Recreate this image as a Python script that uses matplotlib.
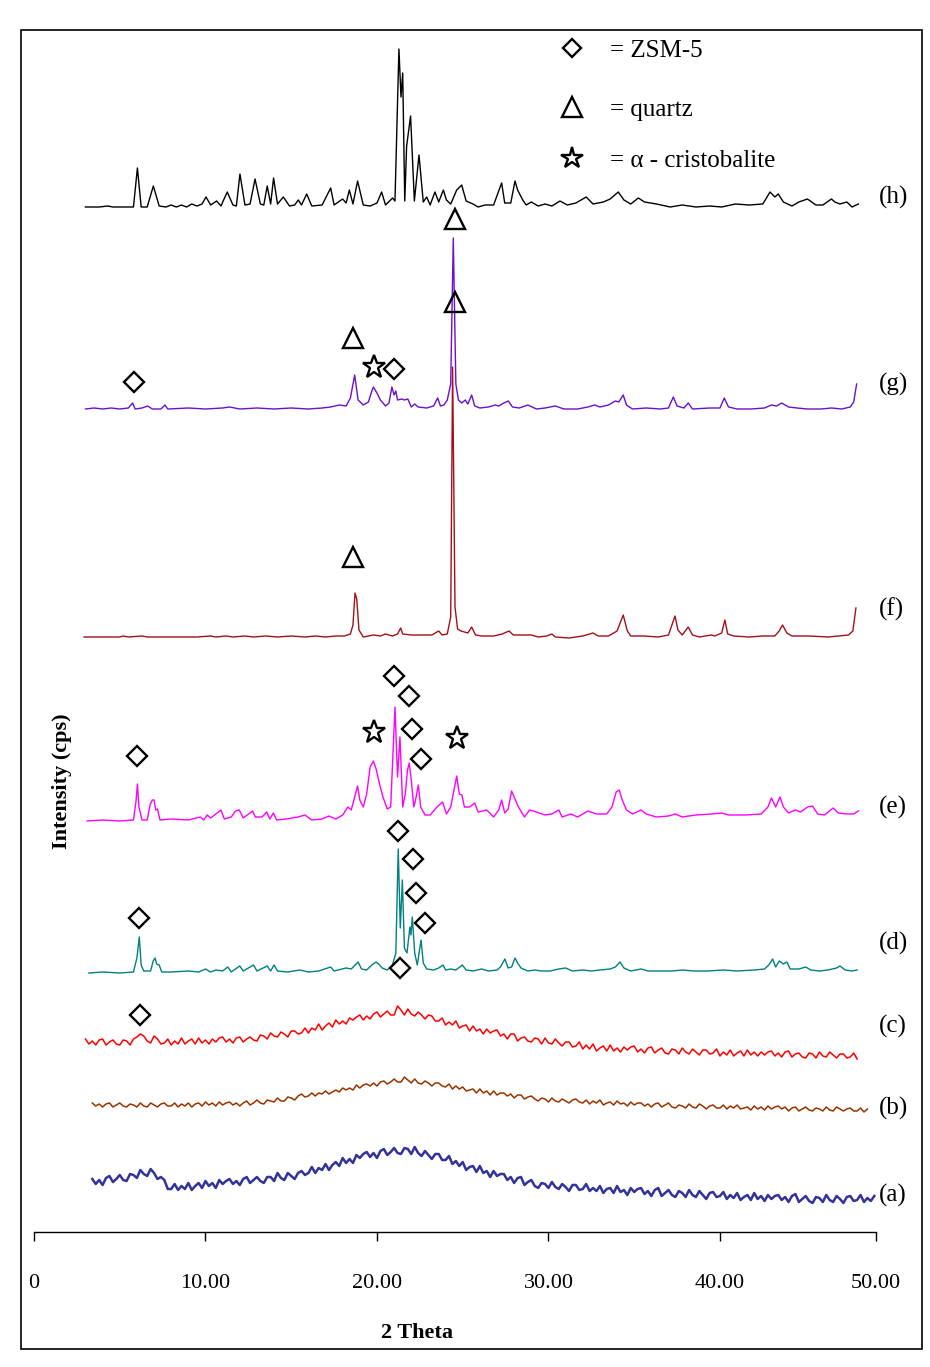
#XRD patterns (a)-(h), stacked
import numpy as np
import matplotlib.pyplot as plt
from matplotlib.patches import Rectangle

plt.rcParams['font.family'] = ['Liberation Serif', 'DejaVu Serif']

#---- data: (2 theta, intensity above own baseline) ----
trace_h = [(3.0,0),(3.8,0),(4.3,1),(4.6,0),(5.8,0),(6.03,39),(6.25,0),(6.6,0),(6.96,21),(7.3,1),
           (7.7,0),(8.0,2),(8.3,0),(8.6,2),(8.9,0),(9.2,3),(9.5,1),(9.8,3),(10.03,10),(10.3,2),
           (10.65,6),(10.9,1),(11.27,15),(11.6,2),(11.8,1),(12.01,33),(12.3,2),(12.6,3),(12.89,28),(13.2,3),
           (13.4,2),(13.6,21),(13.8,3),(13.97,29),(14.2,3),(14.54,10),(14.9,1),(15.2,2),(15.41,7),(15.6,2),
           (15.9,13),(16.2,1),(16.8,2),(17.3,19),(17.5,2),(18.0,8),(18.2,4),(18.39,17),(18.6,3),(18.87,26),
           (19.2,2),(19.6,1),(20.0,4),(20.27,15),(20.5,2),(20.91,9),(21.05,6),(21.28,158),(21.4,110),(21.5,134),
           (21.62,6),(21.73,61),(21.96,91),(22.18,6),(22.45,52),(22.7,5),(22.9,10),(23.1,2),(23.38,15),(23.6,5),
           (23.87,17),(24.05,7),(24.3,3),(24.65,17),(24.94,22),(25.2,6),(25.6,3),(25.9,0),(26.3,2),(26.8,2),
           (27.27,24),(27.45,4),(27.8,4),(28.05,26),(28.2,17),(28.5,7),(28.7,2),(29.0,5),(29.4,1),(29.8,3),
           (30.2,1),(30.67,6),(31.1,2),(31.6,4),(32.2,10),(32.6,3),(33.2,5),(33.6,8),(34.07,15),(34.4,7),
           (34.8,3),(35.24,9),(35.6,5),(36.3,3),(37.1,0),(37.8,2),(38.6,0),(39.4,1),(40.1,0),(40.9,3),
           (41.7,2),(42.5,3),(42.92,15),(43.2,10),(43.4,13),(43.7,5),(44.2,1),(44.6,5),(45.1,8),(45.6,2),
           (46.0,2),(46.5,8),(46.7,5),(47.0,3),(47.4,5),(47.7,0),(48.07,3)]

trace_g = [(3.0,0),(3.5,1),(4.0,0),(4.5,1),(5.0,0),(5.5,1),(5.75,6),(5.9,0),(6.3,1),(6.63,3),
           (6.9,0),(7.4,0),(7.64,4),(7.8,0),(9.0,1),(10.0,0),(11.0,1),(11.4,2),(12.0,0),(13.0,1),
           (14.0,0),(15.0,1),(16.0,0),(16.8,1),(17.3,2),(17.8,4),(18.2,3),(18.45,11),(18.7,34),(18.9,9),
           (19.2,4),(19.5,7),(19.7,18),(19.79,22),(20.0,16),(20.2,9),(20.5,3),(20.7,6),(20.87,22),(21.0,14),
           (21.1,18),(21.2,9),(21.45,10),(21.6,9),(21.8,10),(22.0,2),(22.2,5),(22.4,2),(22.9,1),(23.3,3),
           (23.54,11),(23.7,3),(23.9,4),(24.1,9),(24.3,25),(24.45,171),(24.6,25),(24.75,9),(24.95,6),(25.15,9),
           (25.3,5),(25.52,14),(25.7,3),(26.0,1),(26.5,2),(26.9,4),(27.1,3),(27.4,6),(27.66,8),(27.9,2),
           (28.3,1),(28.8,4),(29.3,0),(29.8,1),(30.4,3),(30.9,0),(31.7,0),(32.3,2),(32.7,4),(33.0,2),
           (33.5,4),(33.9,8),(34.1,7),(34.36,14),(34.55,4),(34.9,0),(35.7,1),(36.5,0),(37.0,1),(37.28,12),
           (37.5,3),(37.9,1),(38.15,6),(38.4,0),(39.4,1),(40.0,1),(40.25,11),(40.5,2),(41.0,0),(41.8,0),
           (42.6,1),(43.0,4),(43.3,3),(43.6,6),(44.0,2),(44.5,1),(45.1,0),(45.9,0),(46.5,1),(47.1,0),
           (47.6,2),(47.8,7),(47.97,25)]

trace_f = [(2.92,0),(3.5,0),(4.1,0),(5.0,0),(5.2,1),(5.5,0),(6.3,1),(6.6,0),(9.5,0),(10.3,1),
           (10.6,0),(11.2,1),(11.6,0),(12.3,1),(12.8,0),(13.5,1),(14.2,0),(15.0,1),(15.8,0),(16.4,1),
           (17.0,0),(17.6,1),(18.1,1),(18.45,3),(18.6,12),(18.72,44),(18.82,38),(18.95,7),(19.2,0),(19.8,2),
           (20.2,1),(20.5,3),(20.9,1),(21.2,3),(21.38,9),(21.5,3),(22.0,2),(22.6,2),(23.2,2),(23.6,6),
           (23.8,2),(24.1,3),(24.3,20),(24.41,270),(24.55,30),(24.7,8),(24.9,6),(25.1,5),(25.3,4),(25.52,10),
           (25.75,2),(26.1,1),(26.8,1),(27.3,3),(27.7,6),(27.95,2),(28.5,2),(29.0,2),(29.4,0),(29.9,1),
           (30.2,3),(30.4,0),(31.2,-1),(32.0,1),(32.6,4),(32.9,1),(33.5,1),(34.0,6),(34.36,22),(34.6,6),
           (34.8,1),(35.6,1),(36.4,0),(37.0,2),(37.2,12),(37.38,21),(37.55,7),(37.8,2),(38.15,10),(38.4,2),
           (38.8,0),(39.5,2),(39.7,1),(40.1,4),(40.29,17),(40.45,3),(40.8,1),(41.7,0),(42.5,1),(43.2,1),
           (43.45,6),(43.65,12),(43.9,4),(44.2,1),(45.2,1),(46.3,0),(47.5,2),(47.75,6),(47.93,29)]

trace_e = [(3.1,0),(4.0,1),(5.0,0),(5.8,1),(5.95,20),(6.03,37),(6.12,14),(6.3,1),(6.6,1),(6.78,17),
           (6.9,21),(7.0,21),(7.1,11),(7.2,12),(7.35,1),(8.0,2),(9.0,1),(9.7,4),(9.9,1),(10.1,6),
           (10.3,3),(10.6,7),(10.9,11),(11.1,2),(11.5,4),(11.75,10),(11.97,11),(12.2,3),(12.75,10),(12.9,4),
           (13.3,4),(13.57,9),(13.75,2),(13.96,8),(14.15,1),(14.7,2),(15.4,4),(15.8,6),(16.2,1),(16.8,2),
           (17.2,5),(17.6,2),(18.0,6),(18.3,14),(18.5,11),(18.87,35),(19.0,21),(19.2,14),(19.4,27),(19.6,54),
           (19.79,60),(19.95,52),(20.15,37),(20.35,24),(20.6,12),(20.8,14),(21.05,114),(21.2,44),(21.34,84),(21.5,14),
           (21.65,27),(21.78,51),(21.88,58),(22.0,41),(22.15,14),(22.25,21),(22.41,36),(22.55,14),(22.8,6),(23.1,6),
           (23.5,14),(23.83,19),(24.05,7),(24.3,14),(24.65,45),(24.8,27),(24.95,26),(25.1,14),(25.4,14),(25.7,18),
           (25.9,9),(26.4,11),(26.8,4),(27.1,11),(27.27,21),(27.45,8),(27.65,12),(27.85,30),(28.05,22),(28.25,14),
           (28.6,4),(28.9,11),(29.3,9),(29.8,6),(30.2,7),(30.6,11),(30.8,4),(31.3,7),(31.7,4),(32.3,10),
           (32.8,7),(33.4,7),(33.7,14),(33.95,29),(34.13,31),(34.3,21),(34.55,11),(34.9,7),(35.4,11),(35.7,7),
           (36.3,4),(37.0,5),(37.4,7),(37.8,4),(38.6,6),(39.5,7),(40.1,8),(40.5,6),(41.5,6),(42.4,7),
           (42.8,14),(43.0,23),(43.25,14),(43.5,24),(43.7,14),(44.0,8),(44.4,11),(44.7,9),(45.1,14),(45.4,15),
           (45.7,7),(46.1,6),(46.6,13),(46.9,8),(47.4,7),(47.8,7),(48.07,10)]

trace_d = [(3.2,0),(4.0,1),(5.0,0),(5.8,1),(6.0,15),(6.14,36),(6.25,8),(6.4,2),(6.8,2),(6.95,12),
           (7.06,15),(7.15,9),(7.3,8),(7.45,1),(8.0,1),(9.0,2),(9.6,1),(10.0,4),(10.3,1),(10.6,3),
           (11.0,2),(11.3,6),(11.5,1),(12.0,7),(12.2,2),(12.8,8),(13.0,2),(13.6,7),(13.8,2),(14.0,8),
           (14.2,2),(14.8,1),(15.5,3),(16.0,1),(16.6,2),(17.3,6),(17.5,2),(18.2,5),(18.5,4),(18.9,11),
           (19.1,4),(19.4,3),(19.7,8),(19.94,11),(20.1,9),(20.3,5),(20.6,3),(20.9,8),(21.1,20),(21.24,124),
           (21.36,45),(21.48,93),(21.6,25),(21.75,20),(21.92,46),(21.98,38),(22.06,56),(22.2,20),(22.35,8),(22.57,33),
           (22.7,10),(22.9,4),(23.3,3),(23.6,5),(23.86,8),(24.0,3),(24.3,4),(24.6,3),(24.98,8),(25.2,3),
           (25.6,2),(26.1,4),(26.5,2),(27.0,3),(27.2,6),(27.46,14),(27.65,5),(27.85,6),(28.05,15),(28.2,10),
           (28.4,5),(28.8,2),(29.2,3),(29.6,2),(30.1,2),(30.6,4),(31.0,5),(31.4,2),(32.0,3),(32.5,2),
           (33.0,3),(33.6,4),(33.9,6),(34.17,11),(34.4,5),(34.8,2),(35.4,4),(35.8,2),(36.5,2),(37.2,2),
           (37.8,3),(38.5,2),(39.3,2),(40.2,3),(41.0,2),(42.0,3),(42.6,4),(42.85,8),(43.07,14),(43.25,6),
           (43.46,12),(43.7,9),(43.9,11),(44.1,4),(44.6,4),(45.0,6),(45.3,3),(45.8,2),(46.3,3),(46.8,5),
           (47.0,7),(47.3,3),(47.7,2),(48.0,3)]

#noisy amorphous scans, 0.2 deg step
scan_c = (3.0, 48.0)
int_c = [18,13,16,12,17,18,12,15,17,13, 12,17,16,12,18,20,23,21,16,14,
         21,18,13,14,18,12,16,13,19,13, 16,18,13,19,14,17,13,18,15,19,
         20,15,18,14,19,20,15,18,20,17, 16,22,21,18,24,21,20,25,23,20,
         26,26,23,24,29,24,29,27,33,27, 31,34,30,37,33,36,33,39,37,40,
         42,37,41,38,43,45,40,43,46,42, 42,51,47,42,48,43,41,45,42,38,
         42,41,36,36,39,32,35,32,36,29, 31,32,26,31,26,28,23,28,24,26,
         27,21,23,18,23,23,16,19,20,16, 15,19,18,13,19,14,13,18,14,11,
         15,15,10,11,15,8,12,8,13,6, 9,11,6,12,6,9,5,10,7,10,
         11,5,8,4,9,10,4,7,9,4, 3,8,7,3,9,5,3,8,5,2,
         7,7,3,4,8,1,5,2,7,1, 4,6,1,7,2,5,1,5,2,5,
         6,1,4,0,5,6,0,3,4,0, -1,4,3,-1,5,1,0,5,2,-1,
         3,3,-1,0,4,-2]

scan_b = (3.4, 48.6)
int_b = [9,6,8,5,8,9,5,7,9,6, 5,8,7,5,9,6,5,9,7,5,
         8,9,6,6,9,5,8,6,9,5, 8,9,6,10,7,9,6,10,7,9,
         10,7,9,6,9,11,7,9,12,9, 8,12,11,10,14,11,11,15,14,12,
         16,18,15,16,19,16,19,18,21,18, 20,22,20,24,22,24,22,27,24,27,
         28,26,29,26,30,31,28,30,33,30, 30,35,32,29,33,29,28,31,29,26,
         29,29,26,25,28,23,26,23,25,21, 22,23,19,23,19,21,17,21,17,19,
         19,16,18,14,17,17,13,15,16,13, 11,14,13,10,14,11,10,13,11,9,
         12,13,10,9,12,8,11,9,12,7, 9,10,7,11,8,9,6,10,7,9,
         9,6,8,5,8,9,5,7,9,5, 4,7,6,4,8,5,4,8,6,3,
         6,7,4,4,7,3,6,4,7,3, 4,5,2,6,3,5,2,6,3,5,
         6,3,5,1,4,5,1,3,5,2, 1,4,3,1,5,2,1,5,3,1,
         3,4,1,1,4,0,3]

scan_a = (3.4, 49.0)
int_a = [20,15,19,14,21,23,17,20,24,19, 18,25,24,21,29,25,23,30,26,20,
         22,19,10,10,15,9,13,10,16,9, 13,16,11,18,13,16,11,19,15,18,
         20,15,18,14,20,22,16,19,22,18, 16,22,22,18,26,21,19,26,23,20,
         26,28,24,26,32,26,31,29,35,29, 34,37,33,41,36,40,36,44,41,45,
         47,42,46,41,48,50,44,47,51,46, 45,51,50,45,52,46,43,48,44,40,
         45,45,39,39,43,35,38,33,37,29, 32,33,27,33,26,28,22,28,23,25,
         25,19,22,16,21,22,14,17,19,13, 11,16,15,11,17,12,10,15,12,8,
         14,14,9,10,15,8,11,8,13,6, 10,11,6,13,7,9,4,11,7,10,
         11,5,8,3,9,11,3,6,9,4, 2,8,6,2,9,4,2,8,4,0,
         6,7,2,3,7,0,4,1,6,-1, 2,4,-1,6,0,3,-2,4,0,3,
         4,-1,2,-3,3,5,-3,0,3,-2, -4,2,1,-3,4,-1,-3,3,0,-4,
         2,3,-2,-1,4,-3,1,-2,3]

names = ['h', 'g', 'f', 'e', 'd', 'c', 'b', 'a']
offsets = [1025, 823, 595, 411, 259, 175, 120, 33]
label_y = [1035, 848, 623, 425, 289, 206, 124, 37]
colors = ['black', '#6a10cf', '#a3101a', '#ff00ff', '#008080', '#ff0000', '#993300', '#333399']
widths = [1.0, 1.0, 1.0, 1.0, 1.0, 1.1, 1.1, 1.8]

#phase markers (2 theta, height on plot)
zsm5_x = [5.83, 21.01, 5.99, 21.01, 21.88, 22.02, 22.55, 6.14, 21.21, 22.12, 22.27, 22.80, 6.18, 21.34]
zsm5_y = [850, 863, 476, 556, 536, 503, 473, 314, 401, 373, 339, 309, 217, 264]
quartz_x = [18.62, 24.55, 18.62, 24.55]
quartz_y = [894, 1013, 675, 930]
crist_x = [19.83, 19.84, 24.65]
crist_y = [865, 500, 494]

tick_pos = [0, 10, 20, 30, 40, 49.1]
tick_lab = ['0', '10.00', '20.00', '30.00', '40.00', '50.00']

#---- figure ----
fig = plt.figure(figsize=(9.3, 13.67), dpi=100)
W, H = 930.0, 1367.0
ax = fig.add_axes([34/W, 1-1232/H, (876-34)/W, (1232-30)/H])

peaky = {'h': trace_h, 'g': trace_g, 'f': trace_f, 'e': trace_e, 'd': trace_d}
noisy = {'c': (scan_c, int_c), 'b': (scan_b, int_b), 'a': (scan_a, int_a)}

for name, off, col, lw in zip(names, offsets, colors, widths):
    if name in peaky:
        x, y = zip(*peaky[name])
        x = np.array(x); y = np.array(y)
    else:
        (t0, t1), vals = noisy[name]
        y = np.array(vals)
        x = np.linspace(t0, t1, len(y))
    ax.plot(x, y + off, color=col, lw=lw)

for name, ly in zip(names, label_y):
    ax.text(49.25, ly, '(%s)' % name, fontsize=18, ha='left', va='center', clip_on=False)

mk = dict(ls='none', mfc='none', mec='black', mew=1.7, clip_on=False)
ax.plot(zsm5_x, zsm5_y, 'D', ms=10.5, **mk)
ax.plot(quartz_x, quartz_y, '^', ms=15, **mk)
ax.plot(crist_x, crist_y, '*', ms=17, **mk)

#legend made of symbols + text
leg_x = 31.4
ax.plot([leg_x], [1184], 'D', ms=9.5, **mk)
ax.plot([leg_x], [1125], '^', ms=14, **mk)
ax.plot([leg_x], [1074], '*', ms=16, **mk)
ax.text(33.6, 1181, '= ZSM-5', fontsize=18, va='center')
ax.text(33.6, 1122, '= quartz', fontsize=18, va='center')
ax.text(33.6, 1071, '= \u03b1 - cristobalite', fontsize=18, va='center')

ax.set_xlim(0, 49.1)
ax.set_ylim(0, 1202)
for s in ['top', 'right', 'left']:
    ax.spines[s].set_visible(False)
ax.spines['bottom'].set_linewidth(1.0)
ax.set_yticks([])
ax.set_xticks(tick_pos)
ax.set_xticklabels(tick_lab, fontsize=16)
ax.tick_params(axis='x', direction='out', length=6.5, width=1.0, pad=24)

fig.text(417/W, 1-1333/H, '2 Theta', fontsize=16, fontweight='bold', ha='center', va='center')
fig.text(62/W, 1-781/H, 'Intensity (cps)', fontsize=16, fontweight='bold',
         rotation=90, ha='center', va='center')

#outer frame
fig.patches.append(Rectangle((21/W, 1-1349/H), (922-21)/W, (1349-30)/H,
                             transform=fig.transFigure, fill=False, lw=1.2, ec='black'))

plt.savefig('out.png', dpi=100)
